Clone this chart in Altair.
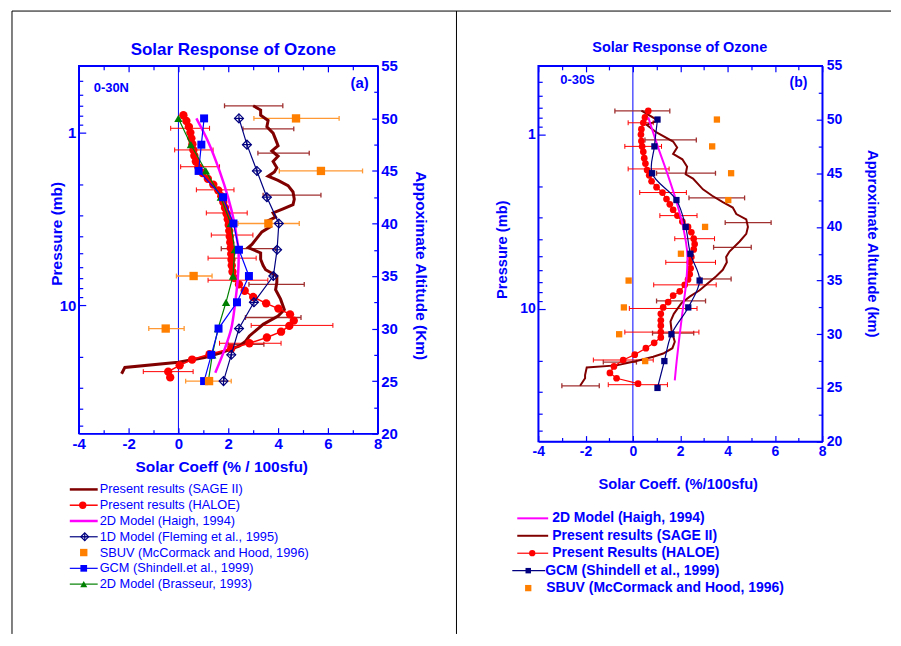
import altair as alt
import pandas as pd

BLUE = "#0000ff"
NAVY = "#000080"
MAROON = "#800000"
SAGE_ERR = "#a03030"
RED = "#ff0000"
MAGENTA = "#ff00ff"
ORANGE = "#ff8000"
ORANGE_ERR = "#ff9933"
GREEN = "#008000"
FONT = "Liberation Sans"

# ---------------- Panel (a): 0-30N ----------------
A_SAGE_ALT = [51.2, 50.8, 50.3, 49.8, 49.2, 48.6, 48.0, 47.4, 46.9, 46.4,
              45.9, 45.3, 44.9, 44.5, 44.1, 43.6, 43.0, 42.3, 41.8, 41.4,
              41.0, 40.6, 40.2, 39.7, 39.2, 38.6, 38.0, 37.7, 37.2, 36.6,
              36.0, 35.6, 35.0, 34.4, 33.7, 32.8, 31.8, 31.2, 30.4, 30.0,
              29.3, 28.8, 28.35, 27.7, 27.25, 26.8, 26.3, 25.7]
A_SAGE_VAL = [3.0, 3.3, 3.3, 3.6, 3.55, 3.8, 3.9, 4.0, 3.75, 4.0,
              3.8, 3.95, 3.85, 3.6, 4.0, 4.4, 4.6, 4.65, 4.6, 4.2,
              3.8, 3.9, 3.55, 3.7, 3.35, 3.15, 2.95, 2.8, 3.3, 3.3,
              3.4, 3.5, 3.95, 3.95, 3.9, 4.1, 4.25, 4.0, 3.4, 3.2,
              2.85, 2.7, 2.45, 1.7, 1.05, 0.0, -2.15, -2.28]
A_SAGE_ERR_ALT = [51.2, 49.0, 46.7, 42.7, 37.6, 34.2, 31.05, 28.5]
A_SAGE_ERR_LO = [1.85, 2.59, 3.19, 3.4, 1.72, 2.83, 2.69, 1.99]
A_SAGE_ERR_HI = [4.19, 4.63, 5.25, 5.72, 3.9, 5.05, 4.92, 3.43]

A_HAL_ALT = [50.3, 49.75, 49.2, 48.65, 48.1, 47.55, 47.0, 46.45, 45.9, 45.35,
             44.8, 44.25, 43.7, 43.15, 42.6, 42.05, 41.5, 40.95, 40.4, 39.85,
             39.3, 38.75, 38.2, 37.65, 37.1, 36.55, 36.0, 35.4, 34.8, 34.2,
             33.6, 33.0, 32.4, 31.9, 31.35, 30.75, 30.25, 29.7, 29.15, 28.6,
             28.1, 27.55, 27.05, 26.5, 25.9, 25.35]
A_HAL_VAL = [0.20, 0.32, 0.42, 0.48, 0.52, 0.56, 0.60, 0.64, 0.70, 0.80,
             0.97, 1.18, 1.40, 1.60, 1.72, 1.80, 1.87, 1.93, 1.98, 2.02,
             2.04, 2.06, 2.08, 2.10, 2.12, 2.13, 2.14, 2.17, 2.25, 2.43,
             2.66, 3.00, 3.52, 4.01, 4.48, 4.63, 4.45, 4.12, 3.55, 2.85,
             2.12, 1.25, 0.55, 0.05, -0.41, -0.33]
A_HAL_ERR_ALT = [49.06, 47.0, 45.4, 43.2, 41.0, 38.9, 36.7, 34.6, 30.3, 28.6, 25.9]
A_HAL_ERR_LO = [-0.31, -0.15, 0.09, 0.72, 1.12, 1.32, 1.19, 1.19, 2.92, 1.65, -1.41]
A_HAL_ERR_HI = [1.25, 1.39, 1.65, 2.23, 2.76, 2.99, 3.12, 3.59, 6.2, 4.12, 0.59]

A_HAIGH_ALT = [50.0, 47.8, 45.0, 42.5, 40.0, 38.8, 37.5, 35.0, 32.5, 30.0, 28.0, 25.8]
A_HAIGH_VAL = [0.72, 1.19, 1.65, 1.99, 2.25, 2.33, 2.41, 2.39, 2.28, 2.12, 1.85, 1.48]

MODEL_ALT = [50.0, 47.5, 45.0, 42.5, 40.0, 37.5, 35.0, 32.5, 30.0, 27.5, 25.0]
A_FLEM_VAL = [2.43, 2.75, 3.15, 3.55, 4.03, 3.96, 3.81, 3.03, 2.43, 2.12, 1.81]
A_GCM_VAL = [1.03, 0.92, 0.81, 1.79, 2.21, 2.43, 2.83, 2.35, 1.61, 1.32, 1.03]
A_BRAS_VAL = [0.0, 0.5, 1.1, 1.7, 2.1, 2.26, 2.19, 1.91, 1.59, 1.36, 1.2]

A_SBUV_ALT = [50.0, 45.0, 40.0, 35.0, 30.0, 25.0]
A_SBUV_VAL = [4.72, 5.72, 3.61, 0.61, -0.51, 1.23]
A_SBUV_LO = [3.03, 4.05, 2.39, -0.08, -1.19, 0.29]
A_SBUV_HI = [6.45, 7.39, 4.85, 1.35, 0.23, 2.12]

# ---------------- Panel (b): 0-30S ----------------
B_SAGE_ALT = [50.84, 49.9, 49.5, 48.8, 47.95, 47.4, 46.8, 46.3, 45.6, 44.9,
              44.5, 43.5, 42.9, 42.3, 41.8, 41.2, 40.7, 40.0, 39.35, 38.64,
              37.7, 37.2, 36.7, 36.0, 35.4, 34.75, 34.1, 33.5, 32.9, 31.9,
              31.2, 30.4, 29.3, 28.7, 28.2, 27.9, 27.5, 27.1, 26.9, 26.2,
              25.9, 25.2]
B_SAGE_VAL = [0.36, 1.07, 0.58, 1.0, 1.70, 1.87, 1.70, 2.09, 2.29, 2.23,
              2.54, 2.96, 3.35, 3.80, 4.22, 4.37, 4.79, 4.86, 4.79, 4.51,
              4.08, 3.94, 3.97, 3.80, 3.52, 3.17, 2.82, 2.40, 2.05, 1.73,
              1.59, 1.63, 1.77, 1.67, 1.28, 0.86, 0.15, -0.69, -1.95, -2.02,
              -2.02, -2.23]
B_SAGE_ERR_ALT = [50.8, 48.1, 45.0, 42.7, 40.4, 38.1, 35.15, 33.1, 30.1, 27.4, 25.2]
B_SAGE_ERR_LO = [-0.76, 0.51, 1.0, 2.37, 3.9, 3.41, 2.85, 1.0, 0.83, -1.25, -3.0]
B_SAGE_ERR_HI = [1.56, 2.68, 3.49, 4.72, 5.84, 5.0, 4.15, 3.07, 2.57, 0.15, -1.42]

B_HAL_ALT = [50.8, 50.2, 49.7, 49.1, 48.6, 48.0, 47.5, 47.0, 46.4, 45.9,
             45.3, 44.8, 44.25, 43.7, 43.2, 42.6, 42.1, 41.6, 41.05, 40.5,
             40.0, 39.5, 38.9, 38.4, 37.9, 37.2, 36.7, 36.15, 35.6, 35.1,
             34.6, 34.0, 33.6, 33.0, 32.5, 31.9, 31.3, 30.8, 30.2, 29.7,
             29.2, 28.7, 28.1, 27.6, 27.0, 26.4, 25.9, 25.4]
B_HAL_VAL = [0.65, 0.51, 0.44, 0.36, 0.34, 0.36, 0.39, 0.44, 0.48, 0.53,
             0.60, 0.69, 0.79, 1.0, 1.25, 1.42, 1.56, 1.70, 1.88, 2.09,
             2.33, 2.47, 2.57, 2.61, 2.57, 2.47, 2.40, 2.44, 2.40, 2.33,
             2.19, 1.98, 1.70, 1.49, 1.28, 1.18, 1.18, 1.18, 1.18, 1.18,
             0.90, 0.55, 0.08, -0.41, -0.80, -0.97, -0.69, 0.22]
B_HAL_ERR_ALT = [49.7, 47.5, 45.4, 43.2, 41.05, 38.9, 36.7, 34.6, 32.4, 30.2, 27.6, 25.3]
B_HAL_ERR_LO = [-0.2, -0.34, -0.2, 0.29, 1.14, 1.77, 1.39, 0.88, -0.15, -0.34, -1.67, -1.04]
B_HAL_ERR_HI = [0.86, 1.21, 1.53, 2.26, 2.71, 3.45, 3.49, 3.52, 2.71, 2.79, 0.86, 1.46]

B_HAIGH_ALT = [50.2, 47.5, 45.0, 42.5, 40.0, 37.5, 35.0, 32.5, 30.0, 27.5, 25.7]
B_HAIGH_VAL = [0.65, 1.05, 1.45, 1.82, 2.12, 2.30, 2.26, 2.12, 1.98, 1.85, 1.77]
B_GCM_VAL = [1.04, 0.91, 0.81, 1.84, 2.23, 2.43, 2.82, 2.34, 1.63, 1.33, 1.04]
B_SBUV_ALT = [50.0, 47.5, 45.0, 42.5, 40.0, 37.5, 35.0, 32.5, 30.0, 27.5]
B_SBUV_VAL = [3.55, 3.35, 4.15, 4.03, 3.05, 2.03, -0.18, -0.38, -0.58, 0.52]

# ---------------- axes ticks / labels ----------------
X_TICKS = [-4, -3, -2, -1, 0, 1, 2, 3, 4, 5, 6, 7, 8]
ALT_TICKS = [20, 22.5, 25, 27.5, 30, 32.5, 35, 37.5, 40, 42.5, 45, 47.5, 50, 52.5, 55]
P_TICKS = [0.5, 0.6, 0.7, 0.8, 0.9, 1, 2, 3, 4, 5, 6, 7, 8, 9, 10, 20, 30, 40, 50]

A_LEGEND = ["Present results (SAGE II)", "Present results (HALOE)", " 2D Model (Haigh, 1994)",
            "1D Model (Fleming et al., 1995)", "SBUV (McCormack and Hood, 1996)",
            "GCM (Shindell.et al., 1999)", "2D Model (Brasseur, 1993)"]
B_LEGEND = ["2D Model (Haigh, 1994)", "Present results (SAGE II)", "Present Results (HALOE)",
            "GCM (Shindell et al., 1999)", "SBUV (McCormack and Hood, 1996)"]

CAP = "M0,-1L0,1"
CROSS = "M-1,0L1,0M0,-1L0,1"

# inward ticks (negative length given as expression)
X_TICK_EXPR = {"expr": "datum.value % 2 == 0 ? -6 : -4"}
ALT_TICK_EXPR = {"expr": "datum.value % 5 == 0 ? -6 : -4"}
P_TICK_EXPR = {"expr": "(datum.value == 1 || datum.value == 10) ? -7 : -4"}


def series_df(alts, vals):
    return pd.DataFrame({"alt": alts, "val": vals, "i": list(range(len(alts)))})


def err_df(alts, lo, hi):
    return pd.DataFrame({"alt": alts, "lo": lo, "hi": hi})


def panel(cfg):
    W, H = cfg["W"], cfg["H"]
    xs = alt.Scale(domain=[-4, 8], nice=False, zero=False)
    ys = alt.Scale(domain=[20, 55], nice=False, zero=False)
    xaxis = alt.Axis(values=X_TICKS, labelExpr="datum.value % 2 == 0 ? '' + datum.value : ''",
                     tickSize=X_TICK_EXPR,
                     labelFontSize=cfg["lfs"], labelPadding=cfg["xlp"] + 6, labelFlush=False,
                     title=cfg["xtitle"], titleFontSize=cfg["tfs"], titleX=cfg["xtx"], titleY=cfg["xty"],
                     titleBaseline="middle")
    yaxis = alt.Axis(orient="right", values=ALT_TICKS,
                     labelExpr="datum.value % 5 == 0 ? '' + datum.value : ''",
                     tickSize=ALT_TICK_EXPR,
                     labelFontSize=cfg["lfs"], labelPadding=cfg["ylp"] + 6, labelFlush=False,
                     title=cfg["rtitle"], titleFontSize=cfg["tfs"], titleX=cfg["rtx"], titleY=cfg["rty"],
                     titleAngle=90, titleBaseline="middle")

    def X(f):
        return alt.X(f + ":Q", scale=xs, axis=xaxis)

    def Y():
        return alt.Y("alt:Q", scale=ys, axis=yaxis)

    L = []
    L.append(alt.Chart(pd.DataFrame({"val": [0.0]})).mark_rule(color=BLUE, strokeWidth=1)
             .encode(x=X("val")))

    for (ea, lo, hi, col, w) in cfg["errors"]:
        base = alt.Chart(err_df(ea, lo, hi))
        L.append(base.mark_rule(color=col, strokeWidth=w).encode(x=X("lo"), x2=alt.X2("hi:Q"), y=Y()))
        L.append(base.mark_point(shape=CAP, size=24, filled=False, color=col, strokeWidth=w, opacity=1)
                 .encode(x=X("lo"), y=Y()))
        L.append(base.mark_point(shape=CAP, size=24, filled=False, color=col, strokeWidth=w, opacity=1)
                 .encode(x=X("hi"), y=Y()))

    for s in cfg["series"]:
        d = alt.Chart(series_df(s["alt"], s["val"]))
        if s.get("line"):
            L.append(d.mark_line(color=s["color"], strokeWidth=s["lw"], interpolate=s.get("interp", "linear"))
                     .encode(x=X("val"), y=Y(), order=alt.Order("i:Q")))
        if s.get("shape"):
            L.append(d.mark_point(shape=s["shape"], filled=s.get("filled", True), size=s["size"],
                                  color=s["color"], opacity=1, strokeWidth=1.2)
                     .encode(x=X("val"), y=Y()))
        if s.get("cross"):
            L.append(d.mark_point(shape=CROSS, filled=False, size=s["size"], color=s["color"],
                                  opacity=1, strokeWidth=1.2)
                     .encode(x=X("val"), y=Y()))

    for (txt, v, a, align, fs) in cfg["texts"]:
        L.append(alt.Chart(pd.DataFrame({"val": [v], "alt": [a], "t": [txt]}))
                 .mark_text(align=align, baseline="middle", fontSize=fs, fontWeight="bold",
                            color=BLUE, font=FONT)
                 .encode(x=X("val"), y=Y(), text="t:N"))

    data_layer = alt.layer(*L)

    pdf = pd.DataFrame({"p": [cfg["ptop"], cfg["pbot"]], "c": [-4, 8]})
    press = alt.Chart(pdf).mark_point(opacity=0).encode(
        x=alt.X("c:Q", scale=alt.Scale(domain=[-4, 8], nice=False, zero=False),
                axis=alt.Axis(orient="top", values=X_TICKS, labels=False, title="",
                              tickSize=X_TICK_EXPR)),
        y=alt.Y("p:Q", scale=alt.Scale(type="log", domain=[cfg["ptop"], cfg["pbot"]], reverse=True, nice=False),
                axis=alt.Axis(orient="left", values=P_TICKS,
                              labelExpr="datum.value == 1 ? '1' : (datum.value == 10 ? '10' : '')",
                              tickSize=P_TICK_EXPR,
                              labelFontSize=cfg["lfs"], labelPadding=cfg["plp"] + 7, labelFlush=False,
                              title="Pressure (mb)", titleFontSize=cfg["tfs"], titleX=cfg["ltx"],
                              titleY=cfg["lty"], titleAngle=270, titleBaseline="middle")),
    )

    ls = alt.Scale(domain=[0, len(cfg["legend"]) - 1], range=cfg["lrange"], nice=False, zero=False)
    LY = alt.Y("row:Q", scale=ls, axis=None)
    G = []
    for i, (label, ent) in enumerate(zip(cfg["legend"], cfg["lstyle"])):
        d = alt.Chart(pd.DataFrame({"row": [i], "label": [label]}))
        if ent.get("line"):
            G.append(d.mark_rule(color=ent["color"], strokeWidth=ent["lw"])
                     .encode(x=alt.value(ent["lx0"]), x2=alt.value(ent["lx1"]), y=LY))
        if ent.get("shape"):
            G.append(d.mark_point(shape=ent["shape"], filled=ent.get("filled", True), size=ent["size"],
                                  color=ent["color"], opacity=1, strokeWidth=1.2)
                     .encode(x=alt.value(ent["px"]), y=LY))
        if ent.get("cross"):
            G.append(d.mark_point(shape=CROSS, filled=False, size=ent["size"], color=ent["color"],
                                  opacity=1, strokeWidth=1.2)
                     .encode(x=alt.value(ent["px"]), y=LY))
        G.append(d.mark_text(align="left", baseline="middle", fontSize=cfg["legfs"],
                             fontWeight=cfg["legfw"], color=BLUE, font=FONT)
                 .encode(x=alt.value(ent["tx"]), y=LY, text="label:N"))
    legend_layer = alt.layer(*G)

    parts = [data_layer, press, legend_layer]
    if cfg.get("borders"):
        bd = alt.Chart(pd.DataFrame({"k": [0]}))
        parts.append(alt.layer(
            bd.mark_rule(color="black", strokeWidth=1).encode(x=alt.value(-67), y=alt.value(-55), y2=alt.value(570)),
            bd.mark_rule(color="black", strokeWidth=1).encode(x=alt.value(-67), x2=alt.value(815), y=alt.value(-55)),
            bd.mark_rule(color="black", strokeWidth=1).encode(x=alt.value(379), y=alt.value(-55), y2=alt.value(570)),
        ))
    return alt.layer(*parts).resolve_scale(x="independent", y="independent").properties(width=W, height=H)


cfg_a = dict(
    W=300, H=369, ptop=0.41, pbot=55.7, lfs=15, tfs=15.5, xlp=3, ylp=3, plp=3,
    xtitle="Solar Coeff (% / 100sfu)", xtx=143, xty=33,
    rtitle="Appoximate Altitude (Km)", rtx=43, rty=200,
    ltx=-22, lty=168,
    errors=[
        (A_SAGE_ERR_ALT, A_SAGE_ERR_LO, A_SAGE_ERR_HI, SAGE_ERR, 1.3),
        (A_HAL_ERR_ALT, A_HAL_ERR_LO, A_HAL_ERR_HI, RED, 1),
        (A_SBUV_ALT, A_SBUV_LO, A_SBUV_HI, ORANGE_ERR, 1.3),
    ],
    series=[
        dict(alt=A_SAGE_ALT, val=A_SAGE_VAL, color=MAROON, lw=3, line=True),
        dict(alt=A_HAL_ALT, val=A_HAL_VAL, color=RED, lw=1.5, line=True, shape="circle", size=70),
        dict(alt=A_HAIGH_ALT, val=A_HAIGH_VAL, color=MAGENTA, lw=2.5, line=True, interp="catmull-rom"),
        dict(alt=MODEL_ALT, val=A_FLEM_VAL, color=NAVY, lw=1.2, line=True, shape="diamond", filled=False,
             size=80, cross=True),
        dict(alt=MODEL_ALT, val=A_BRAS_VAL, color=GREEN, lw=1.2, line=True, shape="triangle-up", size=70),
        dict(alt=MODEL_ALT, val=A_GCM_VAL, color=BLUE, lw=1.2, line=True, shape="square", size=64),
        dict(alt=A_SBUV_ALT, val=A_SBUV_VAL, color=ORANGE, shape="square", size=70),
    ],
    texts=[("Solar Response of Ozone", 2.2, 56.5, "center", 17),
           ("0-30N", -3.4, 52.9, "left", 13),
           ("(a)", 7.64, 53.4, "right", 15)],
    legend=A_LEGEND, lrange=[425, 520], legfs=12.8, legfw="normal",
    lstyle=[
        dict(line=True, color=MAROON, lw=2.5, lx0=-9, lx1=19, tx=21),
        dict(line=True, color=RED, lw=1.5, lx0=-9, lx1=19, shape="circle", size=55, px=4, tx=21),
        dict(line=True, color=MAGENTA, lw=2.5, lx0=-9, lx1=19, tx=21),
        dict(line=True, color=NAVY, lw=1.2, lx0=-9, lx1=19, shape="diamond", filled=False, size=60,
             cross=True, px=6, tx=21),
        dict(color=ORANGE, shape="square", size=55, px=5, tx=21),
        dict(line=True, color=BLUE, lw=1.2, lx0=-9, lx1=19, shape="square", size=45, px=5, tx=21),
        dict(line=True, color=GREEN, lw=1.2, lx0=-9, lx1=19, shape="triangle-up", size=50, px=5, tx=21),
    ],
    borders=True,
)

cfg_b = dict(
    W=285, H=377, ptop=0.405, pbot=57.8, lfs=14, tfs=14.7, xlp=3, ylp=4, plp=3,
    xtitle="Solar Coeff. (%/100sfu)", xtx=140, xty=43,
    rtitle="Approximate Altutude (km)", rtx=49, rty=178,
    ltx=-36, lty=184,
    errors=[
        (B_SAGE_ERR_ALT, B_SAGE_ERR_LO, B_SAGE_ERR_HI, SAGE_ERR, 1.3),
        (B_HAL_ERR_ALT, B_HAL_ERR_LO, B_HAL_ERR_HI, RED, 1),
    ],
    series=[
        dict(alt=B_SAGE_ALT, val=B_SAGE_VAL, color=MAROON, lw=2, line=True),
        dict(alt=B_HAL_ALT, val=B_HAL_VAL, color=RED, lw=1.2, line=True, shape="circle", size=45),
        dict(alt=B_HAIGH_ALT, val=B_HAIGH_VAL, color=MAGENTA, lw=2, line=True, interp="catmull-rom"),
        dict(alt=MODEL_ALT, val=B_GCM_VAL, color=NAVY, lw=1.2, line=True, interp="catmull-rom",
             shape="square", size=40),
        dict(alt=B_SBUV_ALT, val=B_SBUV_VAL, color=ORANGE, shape="square", size=40),
    ],
    texts=[("Solar Response of Ozone", 1.98, 56.7, "center", 14.5),
           ("0-30S", -3.07, 53.7, "left", 13),
           ("(b)", 7.37, 53.4, "right", 14)],
    legend=B_LEGEND, lrange=[454, 524], legfs=14, legfw="bold",
    lstyle=[
        dict(line=True, color=MAGENTA, lw=2, lx0=-21, lx1=10, tx=14),
        dict(line=True, color=MAROON, lw=2, lx0=-21, lx1=10, tx=14),
        dict(line=True, color=RED, lw=1.2, lx0=-21, lx1=10, shape="circle", size=40, px=-6, tx=14),
        dict(line=True, color=NAVY, lw=1.2, lx0=-26, lx1=7, shape="square", size=30, px=-10, tx=7),
        dict(color=ORANGE, shape="square", size=40, px=-10, tx=8),
    ],
)

pa = panel(cfg_a)
pb = panel(cfg_b)

chart = (
    alt.hconcat(pa, pb, spacing=161, bounds="flush")
    .properties(padding={"left": 2, "top": 0, "right": 0, "bottom": 0}, background="white")
    .configure_view(stroke=BLUE, strokeWidth=1.5)
    .configure_axis(labelFont=FONT, titleFont=FONT, labelColor=BLUE, titleColor=BLUE,
                    domainColor=BLUE, tickColor=BLUE, grid=False, labelFontWeight="bold",
                    titleFontWeight="bold", domainWidth=1.5, tickWidth=1.2)
    .configure_text(font=FONT)
)

chart.save("out.html", embed_options={"renderer": "svg", "actions": False})
